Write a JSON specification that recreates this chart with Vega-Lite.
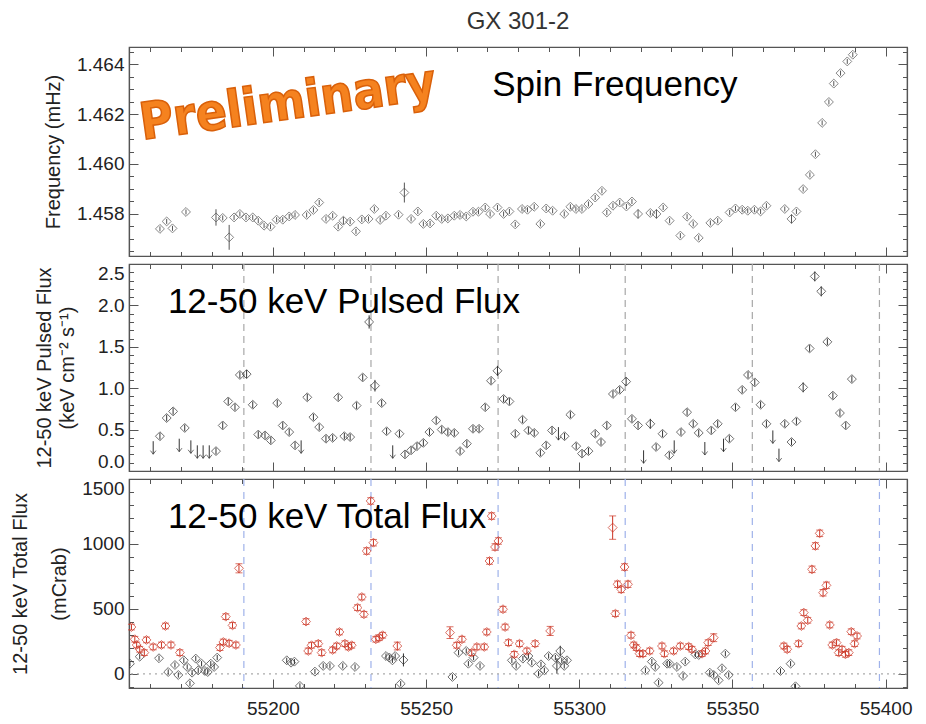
{
"$schema": "https://vega.github.io/schema/vega-lite/v6.json",
"background": "white",
"padding": {"left": 10, "top": 9, "right": 5, "bottom": 5},
"datasets": {
"peri": [{"mjd":55190.5},{"mjd":55232.0},{"mjd":55273.5},{"mjd":55315.0},{"mjd":55356.5},{"mjd":55398.0}],
"freq": [
{"mjd":55163.1,"v":1.45739,"e":0.0001},{"mjd":55165.3,"v":1.45769,"e":0.0001},{"mjd":55167.2,"v":1.45741,"e":0.0001},{"mjd":55171.6,"v":1.45807,"e":0.0001},
{"mjd":55181.4,"v":1.45785,"e":0.00033},{"mjd":55183.6,"v":1.45783,"e":0.0001},{"mjd":55185.7,"v":1.45705,"e":0.0005},{"mjd":55187.3,"v":1.45785,"e":0.0001},
{"mjd":55189.2,"v":1.45799,"e":0.0001},{"mjd":55191.2,"v":1.45785,"e":0.0001},{"mjd":55193.4,"v":1.45785,"e":0.0001},{"mjd":55195.2,"v":1.45772,"e":0.0001},
{"mjd":55197.1,"v":1.45752,"e":0.0001},{"mjd":55199.2,"v":1.45748,"e":0.0001},{"mjd":55201.2,"v":1.45776,"e":0.0001},{"mjd":55203.2,"v":1.45776,"e":0.0001},
{"mjd":55205.3,"v":1.45789,"e":0.0001},{"mjd":55207.2,"v":1.45795,"e":0.0001},{"mjd":55211.0,"v":1.45795,"e":0.0001},{"mjd":55213.2,"v":1.45815,"e":0.0001},
{"mjd":55215.1,"v":1.45845,"e":0.0001},{"mjd":55217.3,"v":1.45779,"e":0.0001},{"mjd":55219.5,"v":1.45792,"e":0.0001},{"mjd":55221.3,"v":1.45748,"e":0.0001},
{"mjd":55223.0,"v":1.45772,"e":0.00015},{"mjd":55225.2,"v":1.45768,"e":0.0001},{"mjd":55227.1,"v":1.45729,"e":0.0001},{"mjd":55229.0,"v":1.45777,"e":0.0001},
{"mjd":55231.2,"v":1.45779,"e":0.0001},{"mjd":55233.1,"v":1.45819,"e":0.0001},{"mjd":55235.0,"v":1.45775,"e":0.0001},{"mjd":55236.9,"v":1.45792,"e":0.0001},
{"mjd":55241.0,"v":1.45796,"e":0.0001},{"mjd":55242.9,"v":1.45885,"e":0.0004},{"mjd":55245.1,"v":1.45779,"e":0.0001},{"mjd":55247.3,"v":1.45809,"e":0.0001},
{"mjd":55249.1,"v":1.45759,"e":0.0001},{"mjd":55251.3,"v":1.45761,"e":0.0001},{"mjd":55253.3,"v":1.45792,"e":0.0001},{"mjd":55255.1,"v":1.45779,"e":0.0001},
{"mjd":55257.1,"v":1.45781,"e":0.0001},{"mjd":55259.2,"v":1.45792,"e":0.0001},{"mjd":55261.1,"v":1.45795,"e":0.0001},{"mjd":55263.1,"v":1.45789,"e":0.0001},
{"mjd":55265.3,"v":1.45808,"e":0.0001},{"mjd":55267.1,"v":1.45808,"e":0.0001},{"mjd":55269.3,"v":1.45825,"e":0.0001},{"mjd":55270.9,"v":1.45799,"e":0.0001},
{"mjd":55273.3,"v":1.45825,"e":0.0001},{"mjd":55275.3,"v":1.45799,"e":0.0001},{"mjd":55277.2,"v":1.45809,"e":0.0001},{"mjd":55279.1,"v":1.45757,"e":0.0001},
{"mjd":55281.3,"v":1.45819,"e":0.0001},{"mjd":55283.1,"v":1.45816,"e":0.0001},{"mjd":55285.3,"v":1.45828,"e":0.0001},{"mjd":55287.3,"v":1.45759,"e":0.0001},
{"mjd":55289.2,"v":1.45821,"e":0.0001},{"mjd":55291.3,"v":1.45812,"e":0.0001},{"mjd":55295.1,"v":1.45799,"e":0.0001},{"mjd":55297.1,"v":1.45828,"e":0.0001},
{"mjd":55298.9,"v":1.45819,"e":0.0001},{"mjd":55300.9,"v":1.45819,"e":0.0001},{"mjd":55303.0,"v":1.45839,"e":0.0001},{"mjd":55305.2,"v":1.45865,"e":0.0001},
{"mjd":55307.4,"v":1.45892,"e":0.0001},{"mjd":55309.0,"v":1.45805,"e":0.0001},{"mjd":55311.0,"v":1.45832,"e":0.0001},{"mjd":55313.2,"v":1.45845,"e":0.0001},
{"mjd":55315.4,"v":1.45829,"e":0.0001},{"mjd":55317.2,"v":1.45849,"e":0.0001},{"mjd":55319.2,"v":1.45799,"e":0.00018},{"mjd":55323.2,"v":1.45803,"e":0.0001},
{"mjd":55325.2,"v":1.45799,"e":0.00018},{"mjd":55327.4,"v":1.45825,"e":0.0001},{"mjd":55329.5,"v":1.45772,"e":0.0001},{"mjd":55333.0,"v":1.45712,"e":0.0001},
{"mjd":55335.2,"v":1.45788,"e":0.0001},{"mjd":55337.2,"v":1.45759,"e":0.0001},{"mjd":55339.0,"v":1.45703,"e":0.0001},{"mjd":55342.8,"v":1.45763,"e":0.0001},
{"mjd":55345.2,"v":1.45772,"e":0.0001},{"mjd":55349.1,"v":1.45805,"e":0.0001},{"mjd":55351.0,"v":1.45821,"e":0.0001},{"mjd":55353.2,"v":1.45816,"e":0.0001},
{"mjd":55355.0,"v":1.45812,"e":0.0001},{"mjd":55357.2,"v":1.45816,"e":0.0001},{"mjd":55359.2,"v":1.45809,"e":0.0001},{"mjd":55361.1,"v":1.45832,"e":0.0001},
{"mjd":55367.1,"v":1.45819,"e":0.0001},{"mjd":55369.3,"v":1.45779,"e":0.00018},{"mjd":55370.9,"v":1.45809,"e":0.0001},{"mjd":55373.1,"v":1.45899,"e":0.0001},
{"mjd":55375.3,"v":1.45956,"e":0.0001},{"mjd":55377.1,"v":1.46039,"e":0.0001},{"mjd":55379.3,"v":1.46165,"e":0.0001},{"mjd":55381.5,"v":1.46249,"e":0.0001},
{"mjd":55383.1,"v":1.46323,"e":0.0001},{"mjd":55385.3,"v":1.46365,"e":0.0001},{"mjd":55387.5,"v":1.46412,"e":0.0001},{"mjd":55389.3,"v":1.46439,"e":0.0001}
],
"pulsed": [
{"mjd":55163.1,"v":0.42,"e":0.04},{"mjd":55165.3,"v":0.64,"e":0.04},{"mjd":55167.4,"v":0.72,"e":0.04},{"mjd":55171.2,"v":0.52,"e":0.04},
{"mjd":55181.4,"v":0.24,"e":0.04},{"mjd":55183.6,"v":0.55,"e":0.04},{"mjd":55185.4,"v":0.84,"e":0.04},{"mjd":55187.6,"v":0.77,"e":0.04},
{"mjd":55189.2,"v":1.16,"e":0.04},{"mjd":55191.4,"v":1.17,"e":0.05},{"mjd":55193.4,"v":0.80,"e":0.04},{"mjd":55195.2,"v":0.44,"e":0.04},
{"mjd":55197.4,"v":0.43,"e":0.04},{"mjd":55199.3,"v":0.37,"e":0.04},{"mjd":55201.4,"v":0.82,"e":0.04},{"mjd":55203.2,"v":0.55,"e":0.04},
{"mjd":55205.3,"v":0.47,"e":0.04},{"mjd":55207.2,"v":0.31,"e":0.04},{"mjd":55211.2,"v":0.89,"e":0.04},{"mjd":55213.2,"v":0.65,"e":0.04},
{"mjd":55215.1,"v":0.53,"e":0.04},{"mjd":55217.3,"v":0.39,"e":0.04},{"mjd":55219.5,"v":0.40,"e":0.04},{"mjd":55221.3,"v":0.89,"e":0.04},
{"mjd":55223.3,"v":0.42,"e":0.04},{"mjd":55225.2,"v":0.41,"e":0.04},{"mjd":55227.3,"v":0.79,"e":0.04},{"mjd":55229.3,"v":1.13,"e":0.04},
{"mjd":55231.4,"v":1.80,"e":0.08},{"mjd":55233.3,"v":1.03,"e":0.07},{"mjd":55235.5,"v":0.82,"e":0.04},{"mjd":55237.1,"v":0.48,"e":0.04},
{"mjd":55241.3,"v":0.45,"e":0.04},{"mjd":55243.1,"v":0.20,"e":0.04},{"mjd":55245.1,"v":0.25,"e":0.04},{"mjd":55247.0,"v":0.30,"e":0.04},
{"mjd":55249.1,"v":0.34,"e":0.04},{"mjd":55251.1,"v":0.47,"e":0.04},{"mjd":55253.3,"v":0.61,"e":0.04},{"mjd":55255.1,"v":0.50,"e":0.04},
{"mjd":55257.1,"v":0.47,"e":0.04},{"mjd":55259.2,"v":0.46,"e":0.04},{"mjd":55261.1,"v":0.24,"e":0.04},{"mjd":55263.3,"v":0.33,"e":0.04},
{"mjd":55265.3,"v":0.51,"e":0.04},{"mjd":55267.3,"v":0.51,"e":0.04},{"mjd":55269.3,"v":0.77,"e":0.04},{"mjd":55271.2,"v":1.09,"e":0.04},
{"mjd":55273.3,"v":1.21,"e":0.06},{"mjd":55275.3,"v":0.87,"e":0.04},{"mjd":55277.2,"v":0.84,"e":0.04},{"mjd":55279.1,"v":0.45,"e":0.04},
{"mjd":55281.5,"v":0.62,"e":0.04},{"mjd":55283.4,"v":0.49,"e":0.04},{"mjd":55285.3,"v":0.46,"e":0.04},{"mjd":55287.3,"v":0.22,"e":0.04},
{"mjd":55289.2,"v":0.31,"e":0.04},{"mjd":55291.1,"v":0.49,"e":0.04},{"mjd":55295.2,"v":0.42,"e":0.04},{"mjd":55297.1,"v":0.68,"e":0.04},
{"mjd":55299.0,"v":0.30,"e":0.04},{"mjd":55300.9,"v":0.21,"e":0.04},{"mjd":55303.0,"v":0.24,"e":0.04},{"mjd":55305.2,"v":0.45,"e":0.04},
{"mjd":55307.1,"v":0.35,"e":0.04},{"mjd":55309.0,"v":0.55,"e":0.04},{"mjd":55311.0,"v":0.93,"e":0.04},{"mjd":55313.2,"v":0.98,"e":0.04},
{"mjd":55315.3,"v":1.08,"e":0.05},{"mjd":55317.2,"v":0.63,"e":0.04},{"mjd":55319.2,"v":0.55,"e":0.04},{"mjd":55323.2,"v":0.57,"e":0.06},
{"mjd":55325.1,"v":0.29,"e":0.04},{"mjd":55327.2,"v":0.45,"e":0.04},{"mjd":55329.4,"v":0.19,"e":0.04},{"mjd":55333.2,"v":0.47,"e":0.04},
{"mjd":55335.2,"v":0.71,"e":0.04},{"mjd":55337.2,"v":0.57,"e":0.04},{"mjd":55339.0,"v":0.46,"e":0.04},{"mjd":55343.1,"v":0.49,"e":0.04},
{"mjd":55345.2,"v":0.57,"e":0.04},{"mjd":55349.0,"v":0.39,"e":0.04},{"mjd":55351.0,"v":0.77,"e":0.04},{"mjd":55353.2,"v":0.98,"e":0.04},
{"mjd":55355.1,"v":1.16,"e":0.04},{"mjd":55357.3,"v":1.07,"e":0.04},{"mjd":55359.2,"v":0.80,"e":0.04},{"mjd":55361.1,"v":0.57,"e":0.04},
{"mjd":55367.1,"v":0.57,"e":0.04},{"mjd":55369.3,"v":0.35,"e":0.04},{"mjd":55370.9,"v":0.60,"e":0.04},{"mjd":55373.1,"v":1.01,"e":0.06},
{"mjd":55375.2,"v":1.48,"e":0.04},{"mjd":55376.9,"v":2.35,"e":0.06},{"mjd":55379.0,"v":2.17,"e":0.06},{"mjd":55381.0,"v":1.56,"e":0.04},
{"mjd":55382.8,"v":0.91,"e":0.04},{"mjd":55385.1,"v":0.70,"e":0.04},{"mjd":55387.0,"v":0.55,"e":0.04},{"mjd":55389.0,"v":1.11,"e":0.04}
],
"ul": [
{"mjd":55160.9,"v":0.36},{"mjd":55169.4,"v":0.39},{"mjd":55173.2,"v":0.37},{"mjd":55175.3,"v":0.31},{"mjd":55177.2,"v":0.31},
{"mjd":55179.2,"v":0.31},{"mjd":55209.2,"v":0.37},{"mjd":55239.1,"v":0.31},{"mjd":55293.2,"v":0.53},{"mjd":55321.0,"v":0.25},
{"mjd":55331.0,"v":0.37},{"mjd":55341.0,"v":0.35},{"mjd":55347.1,"v":0.39},{"mjd":55363.2,"v":0.49},{"mjd":55365.2,"v":0.27}
],
"black": [
{"mjd":55153.3,"v":79,"e":20},{"mjd":55156.5,"v":133,"e":20},{"mjd":55162.8,"v":121,"e":20},{"mjd":55165.8,"v":15,"e":20},
{"mjd":55168.0,"v":69,"e":20},{"mjd":55169.1,"v":-8,"e":20},{"mjd":55170.9,"v":105,"e":20},{"mjd":55172.0,"v":54,"e":20},
{"mjd":55172.9,"v":-72,"e":20},{"mjd":55173.6,"v":10,"e":20},{"mjd":55174.8,"v":118,"e":20},{"mjd":55175.6,"v":28,"e":20},
{"mjd":55176.7,"v":79,"e":20},{"mjd":55177.8,"v":23,"e":20},{"mjd":55178.7,"v":15,"e":20},{"mjd":55179.7,"v":79,"e":20},
{"mjd":55180.8,"v":54,"e":20},{"mjd":55181.8,"v":126,"e":20},{"mjd":55204.5,"v":105,"e":20},{"mjd":55205.9,"v":87,"e":20},
{"mjd":55207.0,"v":95,"e":20},{"mjd":55208.8,"v":-92,"e":20},{"mjd":55213.7,"v":18,"e":20},{"mjd":55216.4,"v":62,"e":20},
{"mjd":55218.6,"v":62,"e":20},{"mjd":55222.8,"v":62,"e":20},{"mjd":55226.8,"v":54,"e":20},{"mjd":55236.9,"v":138,"e":20},
{"mjd":55238.0,"v":126,"e":20},{"mjd":55239.0,"v":105,"e":20},{"mjd":55239.9,"v":138,"e":20},{"mjd":55241.7,"v":-75,"e":20},
{"mjd":55242.6,"v":108,"e":50},{"mjd":55258.6,"v":-23,"e":20},{"mjd":55260.6,"v":164,"e":20},{"mjd":55263.1,"v":177,"e":20},
{"mjd":55263.8,"v":79,"e":20},{"mjd":55265.5,"v":126,"e":20},{"mjd":55267.6,"v":62,"e":20},{"mjd":55278.0,"v":105,"e":20},
{"mjd":55279.4,"v":62,"e":20},{"mjd":55281.6,"v":118,"e":20},{"mjd":55283.4,"v":138,"e":20},{"mjd":55284.5,"v":87,"e":20},
{"mjd":55286.7,"v":2,"e":20},{"mjd":55287.5,"v":74,"e":20},{"mjd":55288.6,"v":28,"e":20},{"mjd":55290.0,"v":138,"e":20},
{"mjd":55292.2,"v":126,"e":20},{"mjd":55292.7,"v":62,"e":60},{"mjd":55293.8,"v":177,"e":40},{"mjd":55294.3,"v":105,"e":20},
{"mjd":55295.1,"v":62,"e":20},{"mjd":55296.0,"v":105,"e":20},{"mjd":55321.6,"v":28,"e":20},{"mjd":55323.7,"v":95,"e":20},
{"mjd":55324.8,"v":54,"e":20},{"mjd":55325.9,"v":-67,"e":20},{"mjd":55328.7,"v":79,"e":20},{"mjd":55329.5,"v":79,"e":20},
{"mjd":55331.9,"v":54,"e":20},{"mjd":55333.9,"v":-15,"e":20},{"mjd":55334.6,"v":95,"e":20},{"mjd":55337.9,"v":151,"e":20},
{"mjd":55339.0,"v":146,"e":20},{"mjd":55342.6,"v":10,"e":20},{"mjd":55343.9,"v":-8,"e":20},{"mjd":55345.5,"v":-49,"e":20},
{"mjd":55346.6,"v":44,"e":20},{"mjd":55347.7,"v":156,"e":20},{"mjd":55348.8,"v":-8,"e":20},{"mjd":55365.7,"v":23,"e":20},
{"mjd":55369.0,"v":79,"e":20},{"mjd":55370.6,"v":-95,"e":20}
],
"red": [
{"mjd":55153.8,"v":361,"e":22},{"mjd":55154.9,"v":267,"e":22},{"mjd":55155.5,"v":223,"e":22},{"mjd":55156.5,"v":190,"e":22},
{"mjd":55158.0,"v":164,"e":22},{"mjd":55158.7,"v":262,"e":22},{"mjd":55160.9,"v":208,"e":22},{"mjd":55163.6,"v":223,"e":22},
{"mjd":55164.9,"v":369,"e":22},{"mjd":55166.7,"v":223,"e":22},{"mjd":55169.6,"v":164,"e":22},{"mjd":55182.7,"v":203,"e":22},
{"mjd":55183.8,"v":246,"e":22},{"mjd":55184.6,"v":441,"e":22},{"mjd":55185.7,"v":236,"e":22},{"mjd":55186.8,"v":374,"e":22},
{"mjd":55187.9,"v":223,"e":22},{"mjd":55188.9,"v":813,"e":35},{"mjd":55210.8,"v":403,"e":22},{"mjd":55211.5,"v":177,"e":22},
{"mjd":55212.6,"v":221,"e":22},{"mjd":55214.8,"v":233,"e":22},{"mjd":55215.9,"v":164,"e":22},{"mjd":55219.5,"v":185,"e":22},
{"mjd":55220.8,"v":215,"e":22},{"mjd":55221.7,"v":323,"e":22},{"mjd":55223.5,"v":233,"e":22},{"mjd":55224.6,"v":208,"e":22},
{"mjd":55225.7,"v":221,"e":22},{"mjd":55227.6,"v":510,"e":22},{"mjd":55229.0,"v":592,"e":22},{"mjd":55229.7,"v":459,"e":22},
{"mjd":55230.6,"v":946,"e":25},{"mjd":55231.9,"v":1331,"e":25},{"mjd":55232.8,"v":1010,"e":25},{"mjd":55233.6,"v":267,"e":22},
{"mjd":55234.7,"v":279,"e":22},{"mjd":55235.8,"v":298,"e":22},{"mjd":55240.6,"v":215,"e":30},{"mjd":55257.8,"v":318,"e":45},
{"mjd":55260.0,"v":221,"e":22},{"mjd":55261.7,"v":267,"e":22},{"mjd":55264.9,"v":164,"e":22},{"mjd":55266.6,"v":208,"e":22},
{"mjd":55269.0,"v":208,"e":22},{"mjd":55269.8,"v":323,"e":22},{"mjd":55270.7,"v":869,"e":25},{"mjd":55271.4,"v":1215,"e":25},
{"mjd":55272.5,"v":977,"e":25},{"mjd":55273.6,"v":1023,"e":25},{"mjd":55275.1,"v":498,"e":22},{"mjd":55275.8,"v":361,"e":22},
{"mjd":55276.9,"v":241,"e":22},{"mjd":55278.8,"v":151,"e":22},{"mjd":55280.5,"v":233,"e":22},{"mjd":55282.9,"v":177,"e":22},
{"mjd":55285.6,"v":233,"e":22},{"mjd":55290.5,"v":331,"e":35},{"mjd":55310.9,"v":1126,"e":90},{"mjd":55311.8,"v":464,"e":22},
{"mjd":55312.5,"v":690,"e":25},{"mjd":55313.7,"v":651,"e":25},{"mjd":55314.8,"v":823,"e":25},{"mjd":55315.9,"v":690,"e":25},
{"mjd":55316.9,"v":298,"e":22},{"mjd":55317.8,"v":223,"e":22},{"mjd":55318.6,"v":203,"e":22},{"mjd":55319.7,"v":156,"e":22},
{"mjd":55320.8,"v":156,"e":22},{"mjd":55323.0,"v":177,"e":22},{"mjd":55327.0,"v":215,"e":22},{"mjd":55327.8,"v":156,"e":22},
{"mjd":55330.8,"v":177,"e":22},{"mjd":55333.0,"v":215,"e":22},{"mjd":55335.7,"v":210,"e":22},{"mjd":55336.8,"v":190,"e":22},
{"mjd":55340.1,"v":156,"e":22},{"mjd":55341.2,"v":177,"e":22},{"mjd":55342.1,"v":241,"e":22},{"mjd":55343.9,"v":279,"e":30},
{"mjd":55366.8,"v":215,"e":22},{"mjd":55367.9,"v":190,"e":22},{"mjd":55371.6,"v":233,"e":22},{"mjd":55372.5,"v":369,"e":22},
{"mjd":55373.3,"v":472,"e":22},{"mjd":55374.6,"v":413,"e":22},{"mjd":55376.0,"v":805,"e":25},{"mjd":55377.1,"v":985,"e":25},
{"mjd":55378.5,"v":1082,"e":25},{"mjd":55379.6,"v":625,"e":25},{"mjd":55380.7,"v":682,"e":25},{"mjd":55381.8,"v":377,"e":22},
{"mjd":55382.6,"v":223,"e":22},{"mjd":55384.0,"v":241,"e":22},{"mjd":55384.7,"v":164,"e":22},{"mjd":55385.8,"v":190,"e":22},
{"mjd":55386.9,"v":151,"e":22},{"mjd":55388.0,"v":164,"e":22},{"mjd":55388.8,"v":325,"e":22},{"mjd":55389.9,"v":233,"e":22},
{"mjd":55390.7,"v":292,"e":22}
]
},
"vconcat": [
{
"width": 778, "height": 209,
"title": {"text": "GX 301-2", "font": "Liberation Sans", "fontSize": 24, "fontWeight": "normal", "color": "#333", "anchor": "middle", "frame": "group", "offset": 9},
"layer": [
{"data": {"name": "freq"}, "mark": {"type": "errorbar", "color": "#555", "thickness": 1},
 "encoding": {"x": {"field": "mjd", "type": "quantitative", "scale": {"domain": [55153, 55407], "nice": false, "zero": false}, "axis": null},
  "y": {"field": "v", "type": "quantitative", "scale": {"domain": [1.4563, 1.4647], "nice": false, "zero": false}, "axis": null}, "yError": {"field": "e"}}},
{"data": {"name": "freq"}, "mark": {"type": "point", "shape": "M0,-1L1,0L0,1L-1,0Z", "filled": false, "size": 80, "strokeWidth": 1, "color": "#555", "clip": true},
 "encoding": {"x": {"field": "mjd", "type": "quantitative", "scale": {"domain": [55153, 55407], "nice": false, "zero": false},
   "axis": {"orient": "bottom", "values": [55160,55170,55180,55190,55200,55210,55220,55230,55240,55250,55260,55270,55280,55290,55300,55310,55320,55330,55340,55350,55360,55370,55380,55390,55400], "labels": false, "title": null, "tickDash": {"condition": {"test": "datum.value % 50 != 0", "value": [4.5, 60]}, "value": [60, 0]}}},
  "y": {"field": "v", "type": "quantitative", "scale": {"domain": [1.4563, 1.4647], "nice": false, "zero": false},
   "axis": {"orient": "left", "values": [1.4565,1.457,1.4575,1.458,1.4585,1.459,1.4595,1.46,1.4605,1.461,1.4615,1.462,1.4625,1.463,1.4635,1.464,1.4645], "labelExpr": "abs(datum.value*500-round(datum.value*500))<0.01 ? format(datum.value,'.3f') : ''", "tickDash": {"condition": {"test": "abs(datum.value*500-round(datum.value*500))>0.01", "value": [4.5, 60]}, "value": [60, 0]}, "title": "Frequency (mHz)", "titlePadding": 13, "labelFlush": true}}}},
{"data": {"name": "freq"}, "mark": {"type": "point", "opacity": 0},
 "encoding": {"x": {"field": "mjd", "type": "quantitative", "scale": {"domain": [55153, 55407], "nice": false, "zero": false},
   "axis": {"orient": "top", "values": [55160,55170,55180,55190,55200,55210,55220,55230,55240,55250,55260,55270,55280,55290,55300,55310,55320,55330,55340,55350,55360,55370,55380,55390,55400], "labels": false, "title": null, "tickDash": {"condition": {"test": "datum.value % 50 != 0", "value": [4.5, 60]}, "value": [60, 0]}}},
  "y": {"field": "v", "type": "quantitative", "scale": {"domain": [1.4563, 1.4647], "nice": false, "zero": false},
   "axis": {"orient": "right", "values": [1.4565,1.457,1.4575,1.458,1.4585,1.459,1.4595,1.46,1.4605,1.461,1.4615,1.462,1.4625,1.463,1.4635,1.464,1.4645], "labels": false, "title": null, "tickDash": {"condition": {"test": "abs(datum.value*500-round(datum.value*500))>0.01", "value": [4.5, 60]}, "value": [60, 0]}}}}},
{"data": {"values": [{}]}, "mark": {"type": "text", "text": "Preliminary", "font": "DejaVu Sans Condensed, DejaVu Sans", "fontWeight": "bold", "fontSize": 51, "angle": -8, "align": "center", "baseline": "middle", "fill": "#F5821F", "stroke": "#D9600A", "strokeWidth": 1.5},
 "encoding": {"x": {"datum": 55204.9, "type": "quantitative", "scale": {"domain": [55153, 55407], "nice": false, "zero": false}, "axis": null},
  "y": {"datum": 1.4624, "type": "quantitative", "scale": {"domain": [1.4563, 1.4647], "nice": false, "zero": false}, "axis": null}}},
{"data": {"values": [{}]}, "mark": {"type": "text", "text": "Spin Frequency", "font": "Liberation Sans", "fontSize": 35, "align": "left", "baseline": "alphabetic", "color": "#000"},
 "encoding": {"x": {"datum": 55271.6, "type": "quantitative", "scale": {"domain": [55153, 55407], "nice": false, "zero": false}, "axis": null},
  "y": {"datum": 1.46272, "type": "quantitative", "scale": {"domain": [1.4563, 1.4647], "nice": false, "zero": false}, "axis": null}}}
],
"resolve": {"axis": {"x": "independent", "y": "independent"}}
},
{
"width": 778, "height": 207,
"layer": [
{"data": {"name": "peri"}, "mark": {"type": "rule", "color": "#a8a8a8", "strokeDash": [7, 5], "strokeWidth": 1.2},
 "encoding": {"x": {"field": "mjd", "type": "quantitative", "scale": {"domain": [55153, 55407], "nice": false, "zero": false}, "axis": null}}},
{"data": {"name": "pulsed"}, "mark": {"type": "errorbar", "color": "#333", "thickness": 1},
 "encoding": {"x": {"field": "mjd", "type": "quantitative", "scale": {"domain": [55153, 55407], "nice": false, "zero": false}, "axis": null},
  "y": {"field": "v", "type": "quantitative", "scale": {"domain": [0, 2.5], "nice": false, "zero": false}, "axis": null}, "yError": {"field": "e"}}},
{"data": {"name": "pulsed"}, "mark": {"type": "point", "shape": "M0,-1L1,0L0,1L-1,0Z", "filled": false, "size": 80, "strokeWidth": 1, "color": "#333", "clip": true},
 "encoding": {"x": {"field": "mjd", "type": "quantitative", "scale": {"domain": [55153, 55407], "nice": false, "zero": false},
   "axis": {"orient": "bottom", "values": [55160,55170,55180,55190,55200,55210,55220,55230,55240,55250,55260,55270,55280,55290,55300,55310,55320,55330,55340,55350,55360,55370,55380,55390,55400], "labels": false, "title": null, "tickDash": {"condition": {"test": "datum.value % 50 != 0", "value": [4.5, 60]}, "value": [60, 0]}}},
  "y": {"field": "v", "type": "quantitative", "scale": {"domain": [0, 2.5], "nice": false, "zero": false},
   "axis": {"orient": "left", "values": [0,0.1,0.2,0.3,0.4,0.5,0.6,0.7,0.8,0.9,1,1.1,1.2,1.3,1.4,1.5,1.6,1.7,1.8,1.9,2,2.1,2.2,2.3,2.4,2.5], "labelExpr": "abs(datum.value*2-round(datum.value*2))<0.01 ? format(datum.value,'.1f') : ''", "tickDash": {"condition": {"test": "abs(datum.value*2-round(datum.value*2))>0.01", "value": [4.5, 60]}, "value": [60, 0]}, "title": ["12-50 keV Pulsed Flux", "(keV cm⁻² s⁻¹)"], "titleLineHeight": 23, "titlePadding": 20, "labelFlush": true}}}},
{"data": {"name": "pulsed"}, "mark": {"type": "point", "opacity": 0},
 "encoding": {"x": {"field": "mjd", "type": "quantitative", "scale": {"domain": [55153, 55407], "nice": false, "zero": false},
   "axis": {"orient": "top", "values": [55160,55170,55180,55190,55200,55210,55220,55230,55240,55250,55260,55270,55280,55290,55300,55310,55320,55330,55340,55350,55360,55370,55380,55390,55400], "labels": false, "title": null, "tickDash": {"condition": {"test": "datum.value % 50 != 0", "value": [4.5, 60]}, "value": [60, 0]}}},
  "y": {"field": "v", "type": "quantitative", "scale": {"domain": [0, 2.5], "nice": false, "zero": false},
   "axis": {"orient": "right", "values": [0,0.1,0.2,0.3,0.4,0.5,0.6,0.7,0.8,0.9,1,1.1,1.2,1.3,1.4,1.5,1.6,1.7,1.8,1.9,2,2.1,2.2,2.3,2.4,2.5], "labels": false, "title": null, "tickDash": {"condition": {"test": "abs(datum.value*2-round(datum.value*2))>0.01", "value": [4.5, 60]}, "value": [60, 0]}}}}},
{"data": {"name": "ul"}, "mark": {"type": "rule", "color": "#333", "strokeWidth": 1, "y2Offset": 13},
 "encoding": {"x": {"field": "mjd", "type": "quantitative", "scale": {"domain": [55153, 55407], "nice": false, "zero": false}, "axis": null},
  "y": {"field": "v", "type": "quantitative", "scale": {"domain": [0, 2.5], "nice": false, "zero": false}, "axis": null}, "y2": {"field": "v"}}},
{"data": {"name": "ul"}, "mark": {"type": "point", "shape": "M -1 -1.3 L 0 0 L 1 -1.3", "filled": false, "size": 30, "strokeWidth": 1, "color": "#333", "yOffset": 13},
 "encoding": {"x": {"field": "mjd", "type": "quantitative", "scale": {"domain": [55153, 55407], "nice": false, "zero": false}, "axis": null},
  "y": {"field": "v", "type": "quantitative", "scale": {"domain": [0, 2.5], "nice": false, "zero": false}, "axis": null}}},
{"data": {"values": [{}]}, "mark": {"type": "text", "text": "12-50 keV Pulsed Flux", "font": "Liberation Sans", "fontSize": 35, "align": "left", "baseline": "alphabetic", "color": "#000"},
 "encoding": {"x": {"datum": 55165.7, "type": "quantitative", "scale": {"domain": [55153, 55407], "nice": false, "zero": false}, "axis": null},
  "y": {"datum": 1.905, "type": "quantitative", "scale": {"domain": [0, 2.5], "nice": false, "zero": false}, "axis": null}}}
],
"resolve": {"axis": {"x": "independent", "y": "independent"}}
},
{
"width": 778, "height": 209,
"layer": [
{"data": {"name": "peri"}, "mark": {"type": "rule", "color": "#9fb2ea", "strokeDash": [7, 6], "strokeWidth": 1.2},
 "encoding": {"x": {"field": "mjd", "type": "quantitative", "scale": {"domain": [55153, 55407], "nice": false, "zero": false}, "axis": null}}},
{"data": {"values": [{}]}, "mark": {"type": "rule", "color": "#aaaaaa", "strokeDash": [2, 4], "strokeWidth": 1.2},
 "encoding": {"y": {"datum": 0, "type": "quantitative", "scale": {"domain": [-108, 1500], "nice": false, "zero": false}, "axis": null}}},
{"data": {"name": "black"}, "mark": {"type": "errorbar", "color": "#333", "thickness": 1},
 "encoding": {"x": {"field": "mjd", "type": "quantitative", "scale": {"domain": [55153, 55407], "nice": false, "zero": false}, "axis": null},
  "y": {"field": "v", "type": "quantitative", "scale": {"domain": [-108, 1500], "nice": false, "zero": false}, "axis": null}, "yError": {"field": "e"}}},
{"data": {"name": "black"}, "mark": {"type": "point", "shape": "M0,-1L1,0L0,1L-1,0Z", "filled": false, "size": 80, "strokeWidth": 1, "color": "#333", "clip": true},
 "encoding": {"x": {"field": "mjd", "type": "quantitative", "scale": {"domain": [55153, 55407], "nice": false, "zero": false},
   "axis": {"orient": "bottom", "values": [55160,55170,55180,55190,55200,55210,55220,55230,55240,55250,55260,55270,55280,55290,55300,55310,55320,55330,55340,55350,55360,55370,55380,55390,55400], "format": "d", "labelExpr": "datum.value % 50 == 0 ? datum.label : ''", "labelPadding": 20, "title": null, "tickDash": {"condition": {"test": "datum.value % 50 != 0", "value": [4.5, 60]}, "value": [60, 0]}}},
  "y": {"field": "v", "type": "quantitative", "scale": {"domain": [-108, 1500], "nice": false, "zero": false},
   "axis": {"orient": "left", "values": [-100,0,100,200,300,400,500,600,700,800,900,1000,1100,1200,1300,1400,1500], "format": "d", "labelExpr": "datum.value % 500 == 0 ? datum.label : ''", "tickDash": {"condition": {"test": "datum.value % 500 != 0", "value": [4.5, 60]}, "value": [60, 0]}, "title": ["12-50 keV Total Flux", "(mCrab)"], "titleLineHeight": 39, "titlePadding": 12, "labelFlush": true}}}},
{"data": {"name": "red"}, "mark": {"type": "errorbar", "color": "#cc3322", "thickness": 1, "ticks": {"size": 7, "color": "#cc3322"}},
 "encoding": {"x": {"field": "mjd", "type": "quantitative", "scale": {"domain": [55153, 55407], "nice": false, "zero": false}, "axis": null},
  "y": {"field": "v", "type": "quantitative", "scale": {"domain": [-108, 1500], "nice": false, "zero": false}, "axis": null}, "yError": {"field": "e"}}},
{"data": {"name": "red"}, "mark": {"type": "point", "shape": "M0,-1L1,0L0,1L-1,0Z", "filled": false, "size": 80, "strokeWidth": 1, "color": "#cc3322", "clip": true},
 "encoding": {"x": {"field": "mjd", "type": "quantitative", "scale": {"domain": [55153, 55407], "nice": false, "zero": false},
   "axis": {"orient": "top", "values": [55160,55170,55180,55190,55200,55210,55220,55230,55240,55250,55260,55270,55280,55290,55300,55310,55320,55330,55340,55350,55360,55370,55380,55390,55400], "labels": false, "title": null, "tickDash": {"condition": {"test": "datum.value % 50 != 0", "value": [4.5, 60]}, "value": [60, 0]}}},
  "y": {"field": "v", "type": "quantitative", "scale": {"domain": [-108, 1500], "nice": false, "zero": false},
   "axis": {"orient": "right", "values": [-100,0,100,200,300,400,500,600,700,800,900,1000,1100,1200,1300,1400,1500], "labels": false, "title": null, "tickDash": {"condition": {"test": "datum.value % 500 != 0", "value": [4.5, 60]}, "value": [60, 0]}}}}},
{"data": {"values": [{}]}, "mark": {"type": "text", "text": "12-50 keV Total Flux", "font": "Liberation Sans", "fontSize": 35, "align": "left", "baseline": "alphabetic", "color": "#000"},
 "encoding": {"x": {"datum": 55165.7, "type": "quantitative", "scale": {"domain": [55153, 55407], "nice": false, "zero": false}, "axis": null},
  "y": {"datum": 1123, "type": "quantitative", "scale": {"domain": [-108, 1500], "nice": false, "zero": false}, "axis": null}}}
],
"resolve": {"axis": {"x": "independent", "y": "independent"}}
}
],
"spacing": 8,
"bounds": "flush",
"resolve": {"scale": {"x": "independent", "y": "independent"}},
"config": {
"view": {"stroke": "#555", "strokeWidth": 1.2},
"axis": {"tickSize": -9, "tickColor": "#555", "tickWidth": 1, "domainColor": "#555", "domainWidth": 1.2, "labelFont": "Liberation Sans", "labelFontSize": 19, "labelColor": "#222", "labelPadding": 14, "titleFont": "Liberation Sans", "titleFontSize": 20, "titleFontWeight": "normal", "titleColor": "#222", "grid": false, "labelOverlap": false, "labelFlush": false}
}
}
